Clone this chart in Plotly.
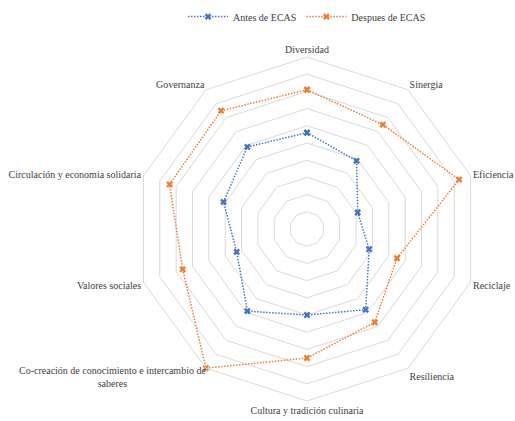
import plotly.graph_objects as go

categories = ["Diversidad", "Sinergia", "Eficiencia", "Reciclaje", "Resiliencia",
              "Cultura y tradición culinaria",
              "Co-creación de conocimiento e intercambio de saberes",
              "Valores sociales", "Circulación y economia solidaria", "Governanza"]
wrapped_label = "Co-creación de conocimiento e intercambio de<br>saberes"
antes = [5.6, 4.9, 3.1, 3.8, 5.8, 5.0, 5.9, 4.3, 5.1, 5.9]
despues = [8.1, 7.5, 9.3, 5.5, 6.7, 7.5, 10.0, 7.6, 8.4, 8.5]

FONT = "Liberation Serif"

fig = go.Figure()
for name, vals, color in [("Antes de ECAS", antes, "#4472C4"),
                          ("Despues de ECAS", despues, "#ED7D31")]:
    fig.add_trace(go.Scatterpolar(
        r=vals + vals[:1], theta=categories + categories[:1], name=name,
        mode="lines+markers",
        line=dict(color=color, width=1.5, dash="1.5px,1.5px"),
        marker=dict(symbol="x", size=6, color=color, line=dict(width=0)),
    ))

L, T, S = 135, 57, 344
fig.add_annotation(
    text=wrapped_label, xref="paper", yref="paper", align="center",
    x=(112 - L) / S, y=1 - (377 - T) / S, xanchor="center", yanchor="middle",
    showarrow=False, font=dict(family=FONT, size=10, color="#404040"),
)

ticktext = ["" if c == categories[6] else c for c in categories]

fig.update_layout(
    width=515, height=421,
    margin=dict(l=L, r=515 - L - S, t=T, b=421 - T - S),
    paper_bgcolor="white", plot_bgcolor="white",
    font=dict(family=FONT, size=10, color="#404040"),
    showlegend=True,
    legend=dict(orientation="h", x=0.5, xanchor="center", y=0.995, yanchor="top",
                yref="container", font=dict(family=FONT, size=10, color="#404040"),
                bgcolor="rgba(0,0,0,0)", itemwidth=40),
    polar=dict(
        bgcolor="white",
        gridshape="linear",
        radialaxis=dict(range=[0, 10], dtick=1, showticklabels=False, ticks="",
                        showline=False, gridcolor="#d9d9d9", gridwidth=1),
        angularaxis=dict(rotation=90, direction="clockwise", showgrid=False,
                         linecolor="#d9d9d9", linewidth=1, ticks="",
                         tickmode="array", tickvals=categories, ticktext=ticktext,
                         tickfont=dict(family=FONT, size=10, color="#404040")),
    ),
)
fig.write_html("out.html")
